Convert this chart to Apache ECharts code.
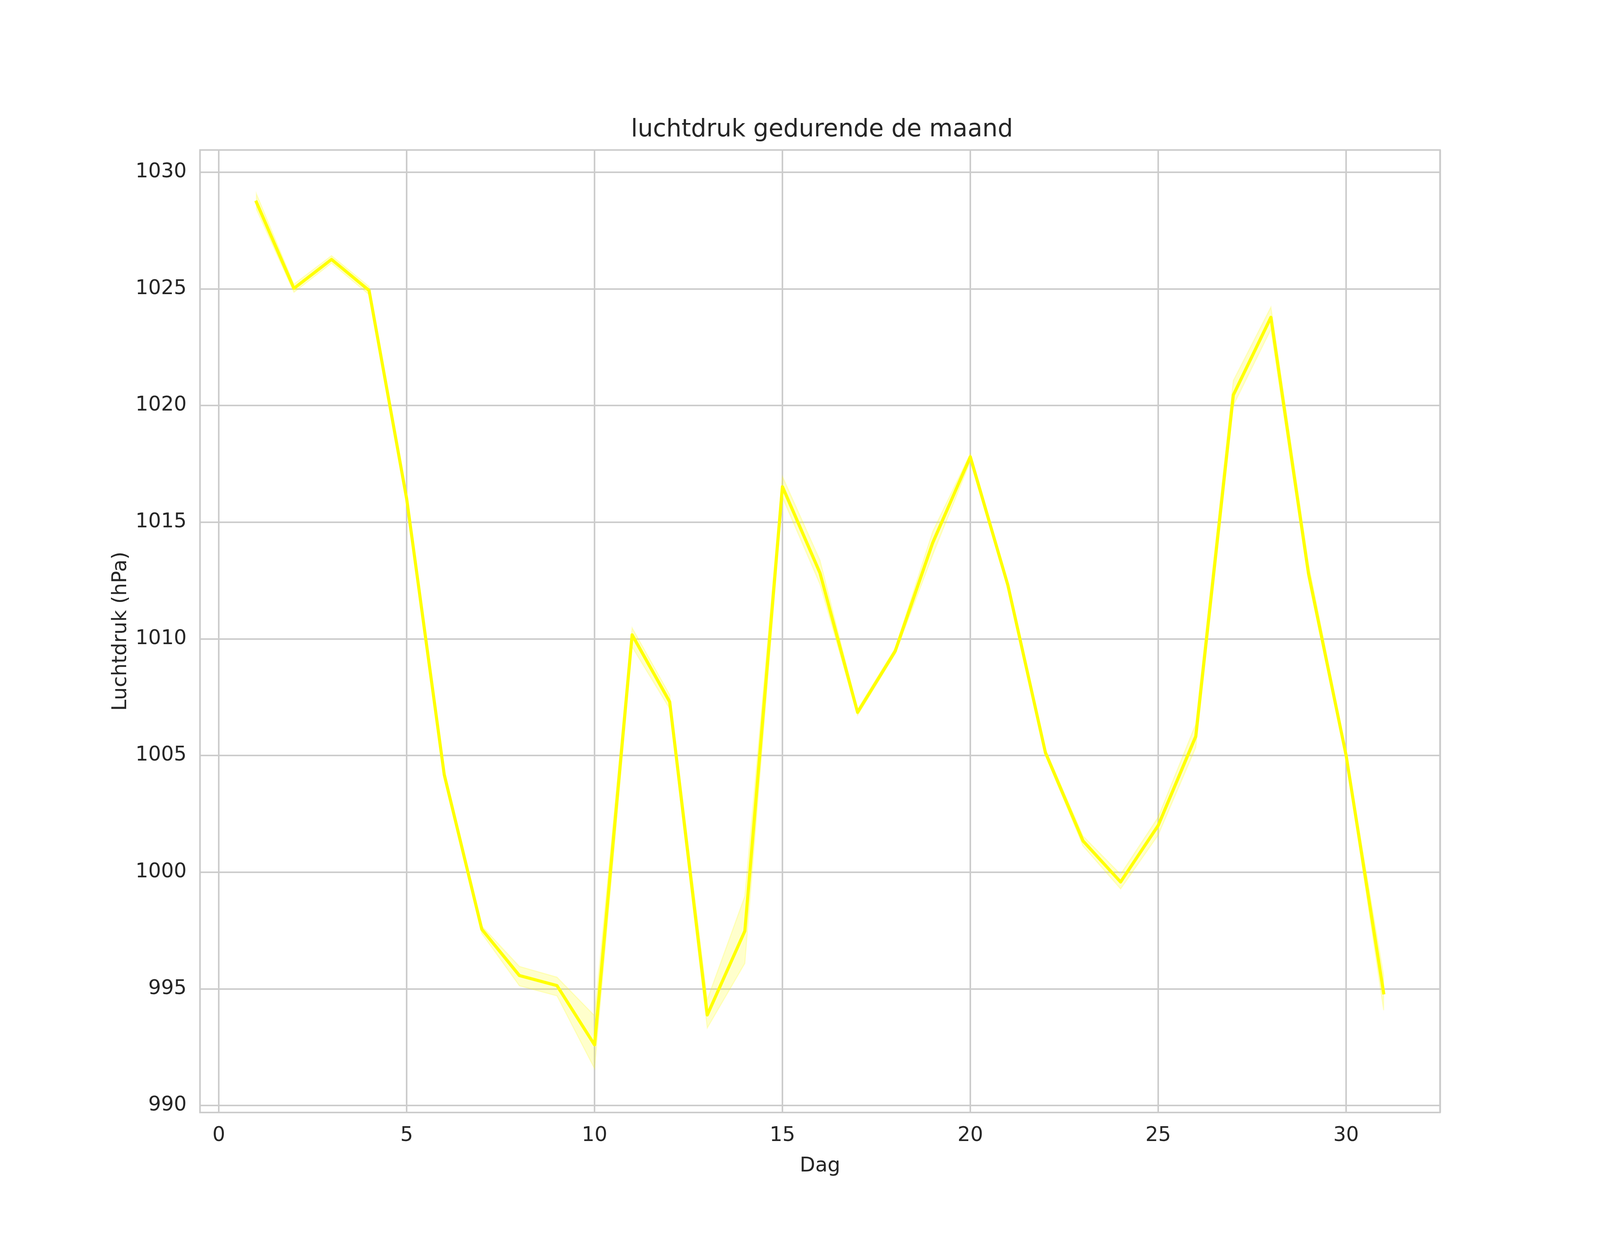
<!DOCTYPE html>
<html>
<head>
<meta charset="utf-8">
<script src="https://cdn.jsdelivr.net/npm/echarts@6/dist/echarts.min.js"></script>
<style>
  html, body { margin: 0; padding: 0; background: #ffffff; overflow: hidden; }
  #chart { position: absolute; left: 0; top: 0; }
</style>
</head>
<body>
<div id="chart"></div>
<script>
const days = [1, 2, 3, 4, 5, 6, 7, 8, 9, 10, 11, 12, 13, 14, 15, 16, 17, 18, 19, 20, 21, 22, 23, 24, 25, 26, 27, 28, 29, 30, 31];
const meanPressure = [1028.72, 1025.02, 1026.26, 1024.93, 1016.0, 1004.18, 997.55, 995.57, 995.14, 992.60,
  1010.17, 1007.30, 993.88, 997.48, 1016.52, 1012.82, 1006.85, 1009.47, 1014.12, 1017.80,
  1012.30, 1005.12, 1001.34, 999.58, 1002.0, 1005.82, 1020.45, 1023.78, 1012.80, 1005.02, 994.83];
const ciLow = [1028.41, 1024.85, 1026.10, 1024.75, 1015.85, 1004.00, 997.37, 995.13, 994.70, 991.58,
  1009.65, 1007.00, 993.32, 996.09, 1016.06, 1012.34, 1006.72, 1009.35, 1013.60, 1017.60,
  1012.20, 1005.00, 1001.12, 999.28, 1001.59, 1005.34, 1020.00, 1023.26, 1012.54, 1004.90, 994.08];
const ciHigh = [1029.08, 1025.20, 1026.42, 1025.10, 1016.15, 1004.35, 997.69, 995.96, 995.50, 993.85,
  1010.47, 1007.60, 994.54, 998.97, 1016.96, 1013.37, 1006.98, 1009.60, 1014.60, 1017.94,
  1012.42, 1005.25, 1001.55, 999.91, 1002.36, 1006.35, 1021.07, 1024.22, 1013.22, 1005.15, 995.58];

const titleText = 'luchtdruk gedurende de maand';
const xName = 'Dag';
const yName = 'Luchtdruk (hPa)';

const lineData = days.map((d, i) => [d, meanPressure[i]]);
const bandItems = days.map((d, i) => [d, ciLow[i], ciHigh[i]]);

// Layout designed for 4800x3200; fill the real viewport
const W = window.innerWidth || 4800;
const H = window.innerHeight || 3200;
const sx = W / 4800;
const sy = H / 3200;
const sf = (sx + sy) / 2;
const X = v => v * sx;
const Y = v => v * sy;
const F = v => v * sf;

const el = document.getElementById('chart');
el.style.width = W + 'px';
el.style.height = H + 'px';

const FONT = 'DejaVu Sans';
const TXT = '#262626';
const GRIDC = '#cccccc';

const chart = echarts.init(el, null, { renderer: 'canvas' });
chart.setOption({
  backgroundColor: '#ffffff',
  animation: false,
  title: {
    text: titleText,
    left: X(2460), textAlign: 'center',
    top: Y(328) - F(40),
    textStyle: { fontFamily: FONT, fontSize: F(66.7), fontWeight: 'normal', color: TXT, lineHeight: F(80) }
  },
  grid: {
    left: X(600), right: W - X(4320), top: Y(384), bottom: H - Y(2848),
    show: true, borderColor: GRIDC, borderWidth: F(4.4), backgroundColor: 'transparent'
  },
  xAxis: {
    type: 'value',
    min: -0.5, max: 32.5,
    splitNumber: 7, minInterval: 5, maxInterval: 5,
    name: xName, nameLocation: 'middle', nameGap: Y(112),
    nameTextStyle: { fontFamily: FONT, fontSize: F(55.6), color: TXT },
    axisLine: { show: false },
    axisTick: { show: false },
    axisLabel: { fontFamily: FONT, fontSize: F(55.6), color: TXT, margin: Y(34),
      showMinLabel: false, showMaxLabel: false, formatter: v => String(v) },
    splitLine: { show: true, lineStyle: { color: GRIDC, width: F(4.4) } }
  },
  yAxis: {
    type: 'value',
    min: 989.70, max: 1030.95,
    splitNumber: 8, minInterval: 5, maxInterval: 5,
    name: yName, nameLocation: 'middle', nameGap: X(200),
    nameTextStyle: { fontFamily: FONT, fontSize: F(55.6), color: TXT },
    axisLine: { show: false },
    axisTick: { show: false },
    axisLabel: { fontFamily: FONT, fontSize: F(55.6), color: TXT, margin: X(40), padding: [F(12), 0, 0, 0],
      showMinLabel: false, showMaxLabel: false, formatter: v => String(v) },
    splitLine: { show: true, lineStyle: { color: GRIDC, width: F(4.4) } }
  },
  series: [
    {
      type: 'custom', name: 'ci95', data: bandItems, silent: true, z: 2,
      encode: { x: 0, y: [1, 2] },
      renderItem: function (params, api) {
        if (params.dataIndex !== 0) return null;
        const pts = [];
        for (let i = 0; i < bandItems.length; i++) pts.push(api.coord([bandItems[i][0], bandItems[i][2]]));
        for (let i = bandItems.length - 1; i >= 0; i--) pts.push(api.coord([bandItems[i][0], bandItems[i][1]]));
        return {
          type: 'polygon',
          shape: { points: pts },
          style: { fill: 'rgba(255,255,0,0.2)', stroke: 'rgba(255,255,0,0.2)', lineWidth: F(3) }
        };
      }
    },
    {
      type: 'line', name: 'mean', data: lineData,
      symbol: 'none',
      lineStyle: { color: '#ffff00', width: F(8.6), join: 'round', cap: 'square' },
      z: 3
    }
  ]
});
</script>
</body>
</html>
